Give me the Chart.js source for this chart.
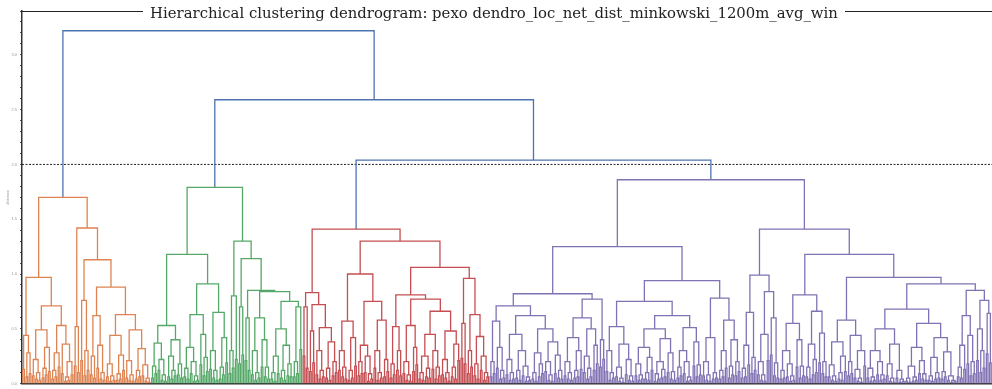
<!DOCTYPE html>
<html><head><meta charset="utf-8">
<script src="https://cdn.jsdelivr.net/npm/chart.js@4.4.1/dist/chart.umd.min.js"></script>
<style>html,body{margin:0;padding:0;background:#fff;}#wrap{width:992px;height:389px;position:relative;}</style>
</head><body><div id="wrap"><canvas id="c"></canvas></div>
<script>
const titleText = "Hierarchical clustering dendrogram: pexo dendro_loc_net_dist_minkowski_1200m_avg_win";
const yAxisTitle = "distance";
const upperHeights = [3.22, 2.59, 2.04];
const colorThreshold = 2.0;
const yMax = 3.4;
const clusterColors = ['#DD8452', '#55A868', '#C44E52', '#8172B3'];
const aboveColor = '#4C72B0';

// Trees: [mergeHeight, left, right]; 0 = single leaf; a bare number h > 0 = two leaves merged at h
const orangeTree = [1.70,
  [0.97,
    [0.44, .13, [0.28, .06, .09]],
    [0.71,
      [0.49, [0.22, .07, [0.10, .04, .03]], [0.33, [0.14, .05, .08], .11]],
      [0.53, [0.28, [0.12, .04, .06], .15], [0.36, .09, [0.20, [0.06, .02, .03], .08]]]]],
  [1.42,
    [0.52, .16, .10],
    [1.13,
      [0.76, .21, [0.30, .07, .12]],
      [0.88,
        [0.62, [0.25, .08, .05], [0.35, .14, [0.10, .04, .03]]],
        [0.63,
          [0.44, [0.18, .06, [0.07, .02, .03]], [0.26, [0.09, .03, .04], .12]],
          [0.49, [0.21, .05, [0.08, .03, .02]], [0.32, [0.12, .04, .06], [0.17, .07, [0.05, .02, .01]]]]]]]]];

const greenTree = [1.79,
  [1.18,
    [0.53,
      [0.37, [0.16, .05, .09], [0.22, .12, [0.08, .03, .02]]],
      [0.40, [0.25, .06, [0.12, .04, .07]], [0.18, .08, .05]]],
    [0.91,
      [0.63, [0.33, [0.14, .06, .04], [0.20, .09, [0.07, .02, .03]]], [0.45, .17, [0.24, .07, .11]]],
      [0.65, [0.30, .13, [0.12, .05, .03]], [0.42, [0.15, .04, .08], .19]]]],
  [1.30,
    [0.80, [0.30, .09, .14], .22],
    [1.14,
      [0.70, .18, .26],
      [0.85,
        [0.60, .21, .12],
        [0.84,
          [0.60, [0.30, .08, [0.10, .03, .05]], [0.40, .15, [0.15, .06, .04]]],
          [0.75,
            [0.50, [0.25, [0.10, .04, .02], .09], [0.35, [0.12, .05, .03], [0.18, .07, .06]]],
            [0.70, [0.20, .06, .09], .31]]]]]]];

const redTree = [1.41,
  [0.83,
    [0.70, .25, .14],
    [0.72,
      [0.48, .11, .19],
      [0.51, [0.30, .08, [0.12, .04, .06]], [0.38, [0.14, .05, .03], [0.20, .07, .10]]]]],
  [1.30,
    [1.00,
      [0.57, [0.30, .12, [0.15, .06, .04]], [0.42, [0.12, .03, .05], .16]],
      [0.75,
        [0.35, [0.20, .07, .09], [0.25, .10, [0.09, .02, .04]]],
        [0.58, [0.30, .14, [0.10, .03, .05]], [0.22, .06, .11]]]],
    [1.06,
      [0.81,
        [0.52, [0.18, .05, .08], [0.30, .12, .07]],
        [0.77,
          [0.53, [0.20, .09, [0.08, .03, .02]], [0.33, .11, .17]],
          [0.66,
            [0.45, [0.25, [0.10, .04, .03], [0.14, .06, .05]], [0.30, .13, [0.15, .04, .07]]],
            [0.48, [0.22, .08, [0.10, .05, .02]], [0.36, [0.15, .06, .04], .21]]]]],
      [0.96,
        [0.55, .23, .18],
        [0.63, [0.30, .09, .15], [0.43, [0.18, .07, .04], [0.25, .12, [0.10, .03, .06]]]]]]]];

const purpleTree = [1.86,
  [1.25,
    [0.82,
      [0.71,
        [0.57, [0.20, .06, .09], [0.33, .14, [0.12, .04, .05]]],
        [0.62,
          [0.45, [0.22, .08, [0.10, .03, .04]], [0.30, [0.12, .05, .03], [0.16, .07, [0.06, .02, .03]]]],
          [0.50, [0.28, [0.10, .04, .02], [0.18, .06, .09]], [0.38, [0.20, .11, [0.08, .03, .02]], [0.26, .09, [0.12, .05, .04]]]]]],
      [0.77,
        [0.60, [0.42, [0.20, .07, [0.10, .04, .03]], [0.30, [0.12, .05, .06], .13]], [0.50, [0.25, .10, [0.14, .04, .06]], [0.35, .12, .18]]],
        [0.40, .15, .22]]],
    [0.94,
      [0.75,
        [0.52, [0.30, .11, [0.10, .03, .05]], [0.36, [0.15, .06, [0.05, .02, .01]], [0.22, .08, [0.07, .03, .02]]]],
        [0.62,
          [0.50, [0.33, [0.18, .07, [0.08, .03, .04]], [0.24, [0.10, .04, .03], .12]], [0.41, [0.20, [0.09, .02, .04], [0.13, .05, .06]], [0.28, .10, [0.11, .04, .03]]]],
          [0.51, [0.30, [0.15, .05, .07], [0.20, .09, [0.06, .02, .03]]], [0.38, .16, [0.17, .06, .08]]]]],
      [0.78,
        [0.42, [0.20, .07, [0.08, .03, .02]], [0.10, .04, .05]],
        [0.58, [0.30, [0.12, .04, .06], .14], [0.40, [0.16, .05, .08], [0.20, .07, .11]]]]]],
  [1.41,
    [0.99,
      [0.65, [0.35, [0.14, .05, .06], .17], [0.24, .09, .12]],
      [0.84, [0.45, [0.20, .08, [0.08, .03, .02]], .21], [0.60, .26, [0.19, .07, .05]]]],
    [1.18,
      [0.81,
        [0.55, [0.30, [0.12, .04, .05], [0.18, .06, [0.07, .02, .03]]], [0.40, .15, [0.16, .05, .07]]],
        [0.66, [0.36, [0.15, .06, .04], [0.22, .08, .10]], [0.46, .19, [0.20, .09, .06]]]],
      [0.97,
        [0.58,
          [0.38, [0.17, .06, [0.07, .03, .02]], [0.25, [0.10, .04, .03], .11]],
          [0.44, [0.20, .07, .09], [0.30, [0.13, .05, [0.05, .02, .01]], .16]]],
        [0.91,
          [0.68,
            [0.50, [0.30, [0.14, .05, [0.06, .02, .03]], [0.20, .08, [0.08, .03, .04]]], [0.36, [0.18, .07, [0.05, .02, .01]], [0.12, .05, [0.04, .01, .02]]]],
            [0.55, [0.33, [0.16, [0.05, .02, .01], [0.06, .02, .03]], [0.21, .09, [0.09, .04, .03]]], [0.42, [0.24, [0.07, .03, .02], [0.10, .04, .05]], [0.29, [0.11, .04, .06], [0.07, .03, [0.03, .01, .02]]]]]],
          [0.85,
            [0.62, [0.35, [0.15, .06, .05], .13], [0.44, .18, [0.20, .07, .09]]],
            [0.76, [0.50, .21, [0.30, .10, .14]], [0.64, .27, .19]]]]]]]];

// ---- build link segments through a scipy-like layout ----
const rootTree = [upperHeights[0], orangeTree, [upperHeights[1], greenTree, [upperHeights[2], redTree, purpleTree]]];
let leafCount = 0;
let clusterIdx = 0;
const segByColor = {};
function addSeg(color, pts) {
  if (!segByColor[color]) segByColor[color] = [];
  segByColor[color].push(...pts, {x: null, y: null});
}
function walk(node, color) {
  if (node === 0) { const x = leafCount * 10 + 5; leafCount++; return {x, y: 0}; }
  if (typeof node === 'number') node = [node, 0, 0];
  const h = node[0];
  let c = color;
  if (h > colorThreshold) c = aboveColor;
  else if (!color) { c = clusterColors[clusterIdx % clusterColors.length]; clusterIdx++; }
  const childColor = c === aboveColor ? null : c;
  const a = walk(node[1], childColor);
  const b = walk(node[2], childColor);
  addSeg(c, [{x: a.x, y: a.y}, {x: a.x, y: h}, {x: b.x, y: h}, {x: b.x, y: b.y}]);
  return {x: (a.x + b.x) / 2, y: h};
}
walk(rootTree, null);
const xMax = leafCount * 10;

const datasets = [];
[...clusterColors, aboveColor].forEach(col => {
  if (!segByColor[col]) return;
  datasets.push({data: segByColor[col], borderColor: col, borderWidth: 1.3, showLine: true, spanGaps: false,
    pointRadius: 0, pointHoverRadius: 0, fill: false, tension: 0});
});
datasets.push({data: [{x: 0, y: colorThreshold}, {x: xMax, y: colorThreshold}], borderColor: '#222',
  borderWidth: 1, borderDash: [2, 1.5], showLine: true, pointRadius: 0, fill: false});

const framePlugin = {
  id: 'frameTitle',
  afterDraw(chart) {
    const ctx = chart.ctx, ca = chart.chartArea;
    ctx.save();
    ctx.strokeStyle = '#222'; ctx.lineWidth = 1.2;
    ctx.beginPath(); ctx.moveTo(ca.left, ca.top + 0.5); ctx.lineTo(chart.width, ca.top + 0.5); ctx.stroke();
    const targetW = 688;
    ctx.font = '15px "DejaVu Serif"';
    const w0 = ctx.measureText(titleText).width;
    const fs = 15 * targetW / w0;
    ctx.font = fs.toFixed(2) + 'px "DejaVu Serif"';
    const cx = 494;
    ctx.fillStyle = '#fff';
    ctx.fillRect(cx - targetW / 2 - 7, ca.top - 8, targetW + 14, 18);
    ctx.fillStyle = '#222'; ctx.textAlign = 'center'; ctx.textBaseline = 'middle';
    ctx.fillText(titleText, cx, ca.top + 3);
    ctx.restore();
  }
};

new Chart(document.getElementById('c'), {
  type: 'scatter',
  data: {datasets},
  plugins: [framePlugin],
  options: {
    responsive: true, maintainAspectRatio: false, animation: false, devicePixelRatio: 1,
    layout: {padding: {top: 11, right: 0, bottom: 0, left: 0}},
    plugins: {legend: {display: false}, tooltip: {enabled: false}, title: {display: false}},
    scales: {
      x: {type: 'linear', min: 0, max: xMax,
        ticks: {display: false}, grid: {display: false, drawTicks: false},
        border: {display: true, color: '#333', width: 1.5},
        afterFit: s => { s.height = 1; }},
      y: {type: 'linear', min: 0, max: yMax,
        ticks: {stepSize: 0.1, autoSkip: false, font: {size: 4}, color: '#999', padding: 3,
          callback: v => (Math.abs(v * 2 - Math.round(v * 2)) < 1e-6) ? v.toFixed(1) : ''},
        grid: {display: true, drawOnChartArea: false, drawTicks: true, tickLength: 2, color: '#555'},
        border: {display: true, color: '#333', width: 1.5},
        title: {display: true, text: yAxisTitle, font: {size: 4}, color: '#999', padding: {top: 5, bottom: 0}},
        afterFit: s => { s.width = 22; }}
    }
  }
});
</script></body></html>
